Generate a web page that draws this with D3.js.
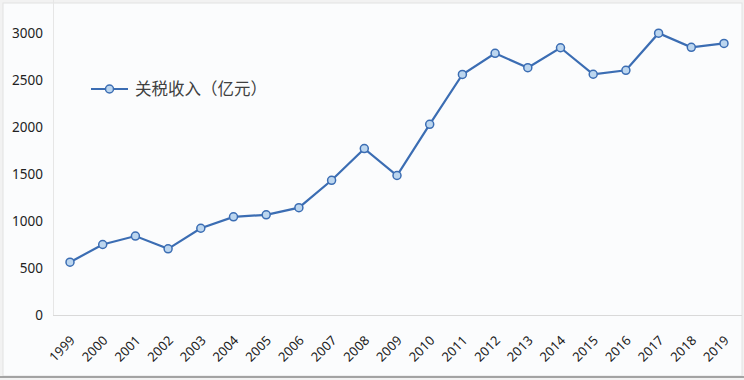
<!DOCTYPE html>
<html>
<head>
<meta charset="utf-8">
<script src="https://cdn.jsdelivr.net/npm/d3@7"></script>
<style>
  body { margin: 0; background: #ffffff; }
  text { font-family: "Noto Sans", "Noto Sans CJK SC", sans-serif; }
</style>
</head>
<body>
<div id="chart"></div>
<script>
// data
var years = ["1999","2000","2001","2002","2003","2004","2005","2006","2007","2008","2009",
             "2010","2011","2012","2013","2014","2015","2016","2017","2018","2019"];
var revenue = [562, 750, 840, 704, 923, 1044, 1066, 1142, 1433, 1770, 1484,
               2028, 2559, 2784, 2631, 2843, 2561, 2603, 2998, 2848, 2889];
var yTicks = [0, 500, 1000, 1500, 2000, 2500, 3000];
var seriesName = "关税收入（亿元）";

var W = 744, H = 380;
var margin = {top: 33, right: 20, bottom: 65, left: 53},
    width = W - margin.left - margin.right,
    height = H - margin.top - margin.bottom;

var root = d3.select("#chart").append("svg")
    .attr("width", W)
    .attr("height", H);

// outer frame / background
root.append("rect").attr("x", 0).attr("y", 0).attr("width", W).attr("height", H).attr("fill", "#f2f2f2");
root.append("rect").attr("x", 3).attr("y", 3).attr("width", 739).attr("height", 373)
    .attr("fill", "#fbfcfd").attr("stroke", "#e2e2e2");
root.append("line").attr("x1", 0).attr("x2", W).attr("y1", 377).attr("y2", 377)
    .attr("stroke", "#8a8a8a").attr("stroke-width", 1.5);

var svg = root.append("g")
    .attr("transform", "translate(" + margin.left + "," + margin.top + ")");

var x = d3.scalePoint()
    .domain(years)
    .range([17, 671]);

var y = d3.scaleLinear()
    .domain([0, 3000])
    .range([height, 0]);

// y axis
var yAxis = svg.append("g")
    .call(d3.axisLeft(y).tickValues(yTicks).tickFormat(d3.format("d")).tickSize(0).tickPadding(10));
yAxis.select(".domain").attr("stroke", "#e6e6e6").attr("d", "M0.5," + (height) + "V-33");
yAxis.selectAll("text")
    .attr("font-size", "13.5px")
    .attr("fill", "#222");

// x axis
var xAxis = svg.append("g")
    .attr("transform", "translate(0," + height + ")")
    .call(d3.axisBottom(x).tickSize(0));
xAxis.select(".domain").attr("stroke", "#d9d9d9").attr("d", "M0,0.5H689");
xAxis.selectAll("text")
    .attr("font-size", "13px")
    .attr("fill", "#222")
    .attr("text-anchor", "end")
    .attr("dy", "0.35em")
    .attr("transform", "translate(0,21) rotate(-45)");

// line
var line = d3.line()
    .x(function(d, i) { return x(years[i]); })
    .y(function(d) { return y(d); });

svg.append("path")
    .datum(revenue)
    .attr("fill", "none")
    .attr("stroke", "#3b6db3")
    .attr("stroke-width", 2.2)
    .attr("d", line);

svg.append("g")
    .selectAll("circle")
    .data(revenue)
    .enter()
    .append("circle")
    .attr("cx", function(d, i) { return x(years[i]); })
    .attr("cy", function(d) { return y(d); })
    .attr("r", 4)
    .attr("fill", "#bcd6ef")
    .attr("stroke", "#3b6db3")
    .attr("stroke-width", 1.5);

// legend
var legend = root.append("g").attr("transform", "translate(91,89)");
legend.append("line").attr("x1", 0).attr("x2", 37).attr("y1", 0).attr("y2", 0)
    .attr("stroke", "#3b6db3").attr("stroke-width", 2.2);
legend.append("circle").attr("cx", 18.5).attr("cy", 0).attr("r", 4)
    .attr("fill", "#bcd6ef").attr("stroke", "#3b6db3").attr("stroke-width", 1.5);
legend.append("text")
    .attr("x", 44)
    .attr("y", 0)
    .attr("dy", "0.35em")
    .attr("font-size", "16.5px")
    .attr("fill", "#404040")
    .text(seriesName);
</script>
</body>
</html>
